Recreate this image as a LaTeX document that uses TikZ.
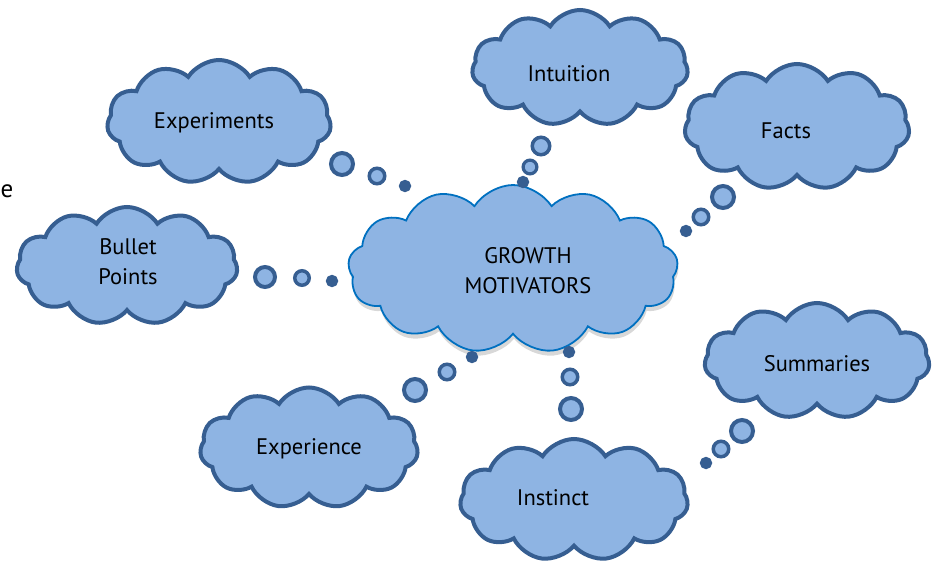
\documentclass[tikz,border=0pt]{standalone}
\usepackage{fontspec}
\setmainfont{PT Sans}
\usepackage{tikz}
\usetikzlibrary{shapes.symbols,shadows}
\definecolor{puff}{RGB}{142,180,227}
\definecolor{rim}{RGB}{54,94,145}
\definecolor{hubrim}{RGB}{0,112,192}
\tikzset{
  thought/.style={cloud, cloud puffs=11, cloud puff arc=115, cloud ignores aspect,
    draw=rim, line width=4pt, fill=puff, inner sep=0pt},
  hub/.style={thought, cloud puffs=13, draw=hubrim, line width=1.8pt,
    drop shadow={opacity=0.3, shadow xshift=1pt, shadow yshift=-5pt}},
  word/.style={font=\fontsize{22.5}{30}\selectfont, align=center},
  bub/.style={circle, draw=rim, fill=puff, inner sep=0pt},
}

\begin{document}
\begin{tikzpicture}[x=1pt, y=-1pt]
  \useasboundingbox (0,0) rectangle (939,561);
  \fill[white] (0,0) rectangle (939,561);

  % outer clouds
  \node[thought, minimum width=224pt, minimum height=124pt] (experiments) at (219,122) {};
  \node[thought, minimum width=216pt, minimum height=116pt] (intuition) at (580,68) {};
  \node[thought, minimum width=225pt, minimum height=126pt] (facts) at (797,127) {};
  \node[thought, minimum width=221pt, minimum height=118pt] (bullets) at (127,266) {};
  \node[thought, minimum width=218pt, minimum height=121pt] (experience) at (309,448) {};
  \node[thought, minimum width=228pt, minimum height=122pt] (instinct) at (574,500) {};
  \node[thought, minimum width=225pt, minimum height=116pt] (summaries) at (817,361) {};

  % centre cloud
  \node[hub, minimum width=330pt, minimum height=168pt] (growth) at (513,269) {};

  % labels
  \node[word] (l1) at (214,123) {Experiments};
  \node[word] (l2) at (569,74) {Intuition};
  \node[word] (l3) at (786,131) {Facts};
  \node[word] (l4) at (128,262) {Bullet\\Points};
  \node[word] (l5) at (528,271) {GROWTH\\MOTIVATORS};
  \node[word] (l6) at (309,449) {Experience};
  \node[word] (l7) at (553,498) {Instinct};
  \node[word] (l8) at (817,364) {Summaries};
  \node[word, font=\fontsize{25}{30}\selectfont, anchor=west, inner sep=0pt] (l9) at (0.5,191) {e};

  % thought bubbles: x/y/radius/ring
  \foreach \x/\y/\r/\w [count=\k] in {
      342/164/13/4, 377/176/9.5/3.5, 405/186/6/6,
      265/277/12/4, 302/278/9/3.5, 332/281/6/6,
      541/146/10.5/3.5, 530/167/8.5/3.2, 523/182/6/6,
      723/197/13/4, 701/217/9.5/3.5, 686/231/6/6,
      742/431/13/4, 721/449/9.5/3.5, 706/463/6/6,
      415/390/13/4, 447/372/9.5/3.5, 472/357/6/6,
      571/409/13/4, 570/377/9.5/3.5, 569/352/6/6}
    \node[bub, line width=\w pt, minimum size=2*\r pt - \w pt] (bub\k) at (\x,\y) {};
\end{tikzpicture}
\end{document}
